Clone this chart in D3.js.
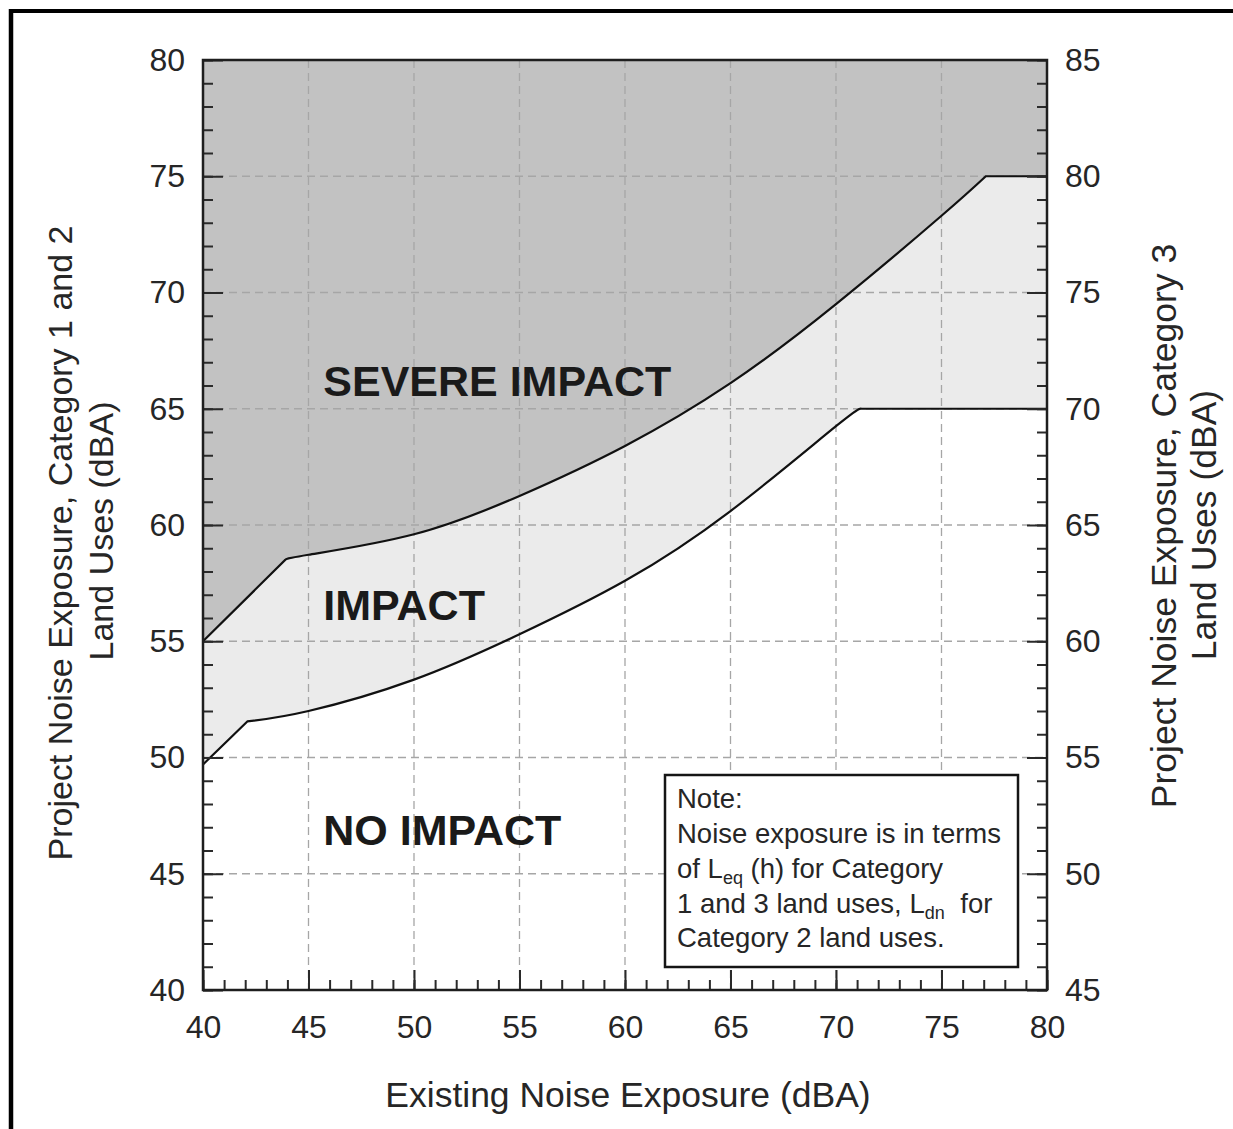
<!DOCTYPE html>
<html>
<head>
<meta charset="utf-8">
<script src="https://cdn.jsdelivr.net/npm/d3@7"></script>
<style>
  body { margin: 0; background: #fff; }
  text { font-family: "Liberation Sans", Arial, sans-serif; fill: #262626; }
</style>
</head>
<body>
<svg id="chart" width="1233" height="1129"></svg>
<script>
// boundary between IMPACT and SEVERE IMPACT (left axis units)
var severeRamp  = [[40, 55], [43.9, 58.5]];
var severeCurve = [[43.9, 58.5], [45, 58.72], [50, 59.6], [55, 61.25], [60, 63.4],
                   [65, 66.1], [70, 69.5], [75, 73.3], [77.1, 75]];
var severeFlat  = [[77.1, 75], [80, 75]];

// boundary between NO IMPACT and IMPACT
var impactRamp  = [[40, 49.7], [42.1, 51.55]];
var impactCurve = [[42.1, 51.55], [45, 52], [50, 53.35], [55, 55.3], [60, 57.6],
                   [65, 60.6], [70, 64.25], [71.2, 65]];
var impactFlat  = [[71.2, 65], [80, 65]];

var xMajor = [40, 45, 50, 55, 60, 65, 70, 75, 80];
var leftMajor = [40, 45, 50, 55, 60, 65, 70, 75, 80];
var rightMajor = [45, 50, 55, 60, 65, 70, 75, 80, 85];
var zoneNames = ["SEVERE IMPACT", "IMPACT", "NO IMPACT"];

var svg = d3.select("#chart");

var x = d3.scaleLinear().domain([40, 80]).range([203, 1047]);
var y = d3.scaleLinear().domain([40, 80]).range([990, 60]);
var y2 = d3.scaleLinear().domain([45, 85]).range([990, 60]);

var straight = d3.line().x(function(d) { return x(d[0]); }).y(function(d) { return y(d[1]); });
var smooth = d3.line().x(function(d) { return x(d[0]); }).y(function(d) { return y(d[1]); })
    .curve(d3.curveNatural);

function boundary(ramp, curve, flat) {
  return straight(ramp) + smooth(curve).replace(/^M/, "L") + straight(flat).replace(/^M/, "L");
}
var upper = boundary(severeRamp, severeCurve, severeFlat);
var lower = boundary(impactRamp, impactCurve, impactFlat);

function downTo40(p) {
  return p + "L" + x(80) + "," + y(40) + "L" + x(40) + "," + y(40) + "Z";
}

// outer frame
svg.append("line").attr("x1", 11).attr("x2", 11).attr("y1", 9).attr("y2", 1129)
  .attr("stroke", "#000").attr("stroke-width", 4.5);
svg.append("line").attr("x1", 9).attr("x2", 1233).attr("y1", 11).attr("y2", 11)
  .attr("stroke", "#000").attr("stroke-width", 4);

// zones
svg.append("rect").attr("x", x(40)).attr("y", y(80))
  .attr("width", x(80) - x(40)).attr("height", y(40) - y(80)).attr("fill", "#c2c2c2");
svg.append("path").attr("d", downTo40(upper)).attr("fill", "#ebebeb");
svg.append("path").attr("d", downTo40(lower)).attr("fill", "#ffffff");

// dashed grid
var grid = svg.append("g").attr("stroke", "#a6a6a6").attr("stroke-width", 1.3)
  .attr("stroke-dasharray", "8,5");
grid.selectAll(".vx").data(xMajor.slice(1, -1)).enter().append("line")
  .attr("x1", function(d) { return x(d); }).attr("x2", function(d) { return x(d); })
  .attr("y1", y(80)).attr("y2", y(40));
grid.selectAll(".hy").data(leftMajor.slice(1, -1)).enter().append("line")
  .attr("y1", function(d) { return y(d); }).attr("y2", function(d) { return y(d); })
  .attr("x1", x(40)).attr("x2", x(80));

// boundary curves
svg.append("path").attr("d", upper).attr("fill", "none").attr("stroke", "#111").attr("stroke-width", 2.2);
svg.append("path").attr("d", lower).attr("fill", "none").attr("stroke", "#111").attr("stroke-width", 2.2);

// zone labels
var zonePos = [[45.7, 65.55], [45.7, 55.9], [45.7, 46.25]];
svg.selectAll(".zone").data(zoneNames).enter().append("text")
  .attr("x", function(d, i) { return x(zonePos[i][0]); })
  .attr("y", function(d, i) { return y(zonePos[i][1]); })
  .attr("font-size", 43).attr("font-weight", "bold").style("fill", "#1a1a1a")
  .text(function(d) { return d; });

// axes
function styleAxis(g) {
  g.select(".domain").remove();
  g.selectAll("line").attr("stroke", "#2a2a2a").attr("stroke-width", 2);
  g.selectAll("text").attr("font-size", 32).attr("fill", "#262626")
    .style("font-family", "'Liberation Sans', Arial, sans-serif");
}
var allX = d3.range(40, 81, 1);
svg.append("g").attr("transform", "translate(0," + y(40) + ")")
  .call(d3.axisBottom(x).tickValues(allX).tickSize(-10).tickFormat("")).call(styleAxis);
svg.append("g").attr("transform", "translate(0," + y(40) + ")")
  .call(d3.axisBottom(x).tickValues(xMajor).tickSize(-20).tickPadding(25)).call(styleAxis);

svg.append("g").attr("transform", "translate(" + x(40) + ",0)")
  .call(d3.axisLeft(y).tickValues(d3.range(40, 81, 1)).tickSize(-10).tickFormat("")).call(styleAxis);
svg.append("g").attr("transform", "translate(" + x(40) + ",0)")
  .call(d3.axisLeft(y).tickValues(leftMajor).tickSize(-20).tickPadding(18)).call(styleAxis);

svg.append("g").attr("transform", "translate(" + x(80) + ",0)")
  .call(d3.axisRight(y2).tickValues(d3.range(45, 86, 1)).tickSize(-10).tickFormat("")).call(styleAxis);
svg.append("g").attr("transform", "translate(" + x(80) + ",0)")
  .call(d3.axisRight(y2).tickValues(rightMajor).tickSize(-20).tickPadding(18)).call(styleAxis);

// plot frame
svg.append("rect").attr("x", x(40)).attr("y", y(80))
  .attr("width", x(80) - x(40)).attr("height", y(40) - y(80))
  .attr("fill", "none").attr("stroke", "#1e1e1e").attr("stroke-width", 2.5);

// axis titles
svg.append("text").attr("x", 628).attr("y", 1107).attr("text-anchor", "middle")
  .attr("font-size", 35.5).text("Existing Noise Exposure (dBA)");

function sideTitle(cx, cy, size, str) {
  svg.append("text").attr("transform", "translate(" + cx + "," + cy + ") rotate(-90)")
    .attr("text-anchor", "middle").attr("font-size", size).text(str);
}
sideTitle(72, 543, 34, "Project Noise Exposure, Category 1 and 2");
sideTitle(113, 531, 34, "Land Uses (dBA)");
sideTitle(1176, 526, 35.5, "Project Noise Exposure, Category 3");
sideTitle(1216, 525, 35.5, "Land Uses (dBA)");

// note box
svg.append("rect").attr("x", 665).attr("y", 775).attr("width", 353).attr("height", 192)
  .attr("fill", "#fff").attr("stroke", "#151515").attr("stroke-width", 2.5);
var note = svg.append("g").attr("font-size", 27.5);
note.append("text").attr("x", 677).attr("y", 808).text("Note:");
note.append("text").attr("x", 677).attr("y", 843).text("Noise exposure is in terms");
var l3 = note.append("text").attr("x", 677).attr("y", 878);
l3.append("tspan").text("of L");
l3.append("tspan").attr("font-size", 18).attr("dy", 6).text("eq");
l3.append("tspan").attr("dy", -6).text(" (h) for Category");
var l4 = note.append("text").attr("x", 677).attr("y", 913);
l4.append("tspan").text("1 and 3 land uses, L");
l4.append("tspan").attr("font-size", 18).attr("dy", 6).text("dn");
l4.append("tspan").attr("dy", -6).attr("dx", 8).text(" for");
note.append("text").attr("x", 677).attr("y", 947).text("Category 2 land uses.");
</script>
</body>
</html>
